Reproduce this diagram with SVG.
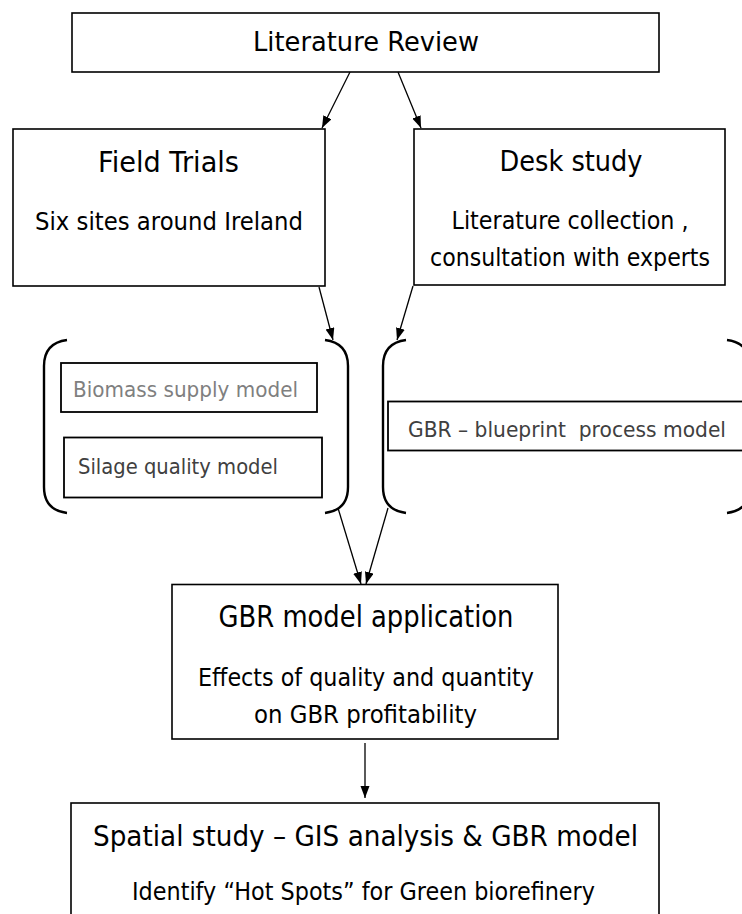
<svg xmlns="http://www.w3.org/2000/svg" width="742" height="914" viewBox="0 0 742 914">
  <defs>
    <marker id="arrow" markerUnits="userSpaceOnUse" markerWidth="13" markerHeight="10" refX="12" refY="4.5" orient="auto">
      <path d="M0,0 L12,4.5 L0,9 Z" fill="#000"/>
    </marker>
    <style>
      .box { fill: #fff; stroke: #000; stroke-width: 1.6; }
      .sub { fill: #fff; stroke: #000; stroke-width: 1.8; }
      .brace { fill: none; stroke: #000; stroke-width: 2.4; }
      .conn { fill: none; stroke: #000; stroke-width: 1.3; marker-end: url(#arrow); }
      text { font-family: "DejaVu Sans", Verdana, sans-serif; fill: #000; }
      .mid { text-anchor: middle; }
      .grey { fill: #7f7f7f; }
      .dark { fill: #404040; }
    </style>
  </defs>
  <rect width="742" height="914" fill="#fff"/>

  <g id="literature-review">
    <rect class="box" x="72" y="13" width="587" height="59"/>
    <text class="mid" x="366" y="50.5" font-size="26" textLength="226" lengthAdjust="spacingAndGlyphs">Literature Review</text>
  </g>

  <g id="field-trials">
    <rect class="box" x="13" y="129" width="312" height="157"/>
    <text class="mid" x="168.5" y="171.5" font-size="27.5" textLength="141" lengthAdjust="spacingAndGlyphs">Field Trials</text>
    <text class="mid" x="169" y="230" font-size="25" textLength="268" lengthAdjust="spacingAndGlyphs">Six sites around Ireland</text>
  </g>

  <g id="desk-study">
    <rect class="box" x="414" y="129" width="311" height="156"/>
    <text class="mid" x="571" y="171" font-size="27.5" textLength="143" lengthAdjust="spacingAndGlyphs">Desk study</text>
    <text class="mid" x="570" y="229" font-size="24.5" textLength="237" lengthAdjust="spacingAndGlyphs">Literature collection ,</text>
    <text class="mid" x="570" y="265.5" font-size="24" textLength="280" lengthAdjust="spacingAndGlyphs">consultation with experts</text>
  </g>

  <g id="field-models">
    <path class="brace" d="M67,340 Q44,343 44,366 L44,487 Q44,510 67,513"/>
    <path class="brace" d="M325,340 Q348,343 348,366 L348,487 Q348,510 325,513"/>
    <g id="biomass-supply-model">
      <rect class="sub" x="61" y="363" width="256" height="49"/>
      <text class="grey" x="73" y="396.5" font-size="21" textLength="225" lengthAdjust="spacingAndGlyphs">Biomass supply model</text>
    </g>
    <g id="silage-quality-model">
      <rect class="sub" x="64" y="437.5" width="258" height="60"/>
      <text class="dark" x="78" y="474" font-size="21" textLength="200" lengthAdjust="spacingAndGlyphs">Silage quality model</text>
    </g>
  </g>

  <g id="desk-models">
    <path class="brace" d="M406,340 Q383,343 383,366 L383,487 Q383,510 406,513"/>
    <path class="brace" d="M727,340 Q750,343 750,366 L750,487 Q750,510 727,513"/>
    <g id="gbr-blueprint-process-model">
      <rect class="sub" x="388" y="401.5" width="370" height="49"/>
      <text class="dark" x="408" y="436.5" font-size="21" textLength="318" lengthAdjust="spacingAndGlyphs" xml:space="preserve">GBR – blueprint  process model</text>
    </g>
  </g>

  <g id="gbr-model-application">
    <rect class="box" x="172" y="584.5" width="386" height="154.5"/>
    <text class="mid" x="366" y="627" font-size="30" textLength="295" lengthAdjust="spacingAndGlyphs">GBR model application</text>
    <text class="mid" x="366" y="685.5" font-size="24" textLength="336" lengthAdjust="spacingAndGlyphs">Effects of quality and quantity</text>
    <text class="mid" x="365.5" y="722.5" font-size="24" textLength="223" lengthAdjust="spacingAndGlyphs">on GBR profitability</text>
  </g>

  <g id="spatial-study">
    <rect class="box" x="71" y="803" width="588" height="130"/>
    <text class="mid" x="365.5" y="846" font-size="28.5" textLength="545" lengthAdjust="spacingAndGlyphs">Spatial study – GIS analysis &amp; GBR model</text>
    <text class="mid" x="363.5" y="900" font-size="25" textLength="463" lengthAdjust="spacingAndGlyphs">Identify “Hot Spots” for Green biorefinery</text>
  </g>

  <g id="connectors">
    <line class="conn" x1="350" y1="72" x2="322" y2="128"/>
    <line class="conn" x1="398" y1="72" x2="421" y2="128"/>
    <line class="conn" x1="319" y1="287" x2="333" y2="340"/>
    <line class="conn" x1="413" y1="286" x2="397" y2="340"/>
    <line class="conn" x1="338" y1="508" x2="361" y2="584"/>
    <line class="conn" x1="388" y1="508" x2="366" y2="584"/>
    <line class="conn" x1="365" y1="743" x2="365" y2="798"/>
  </g>
</svg>
